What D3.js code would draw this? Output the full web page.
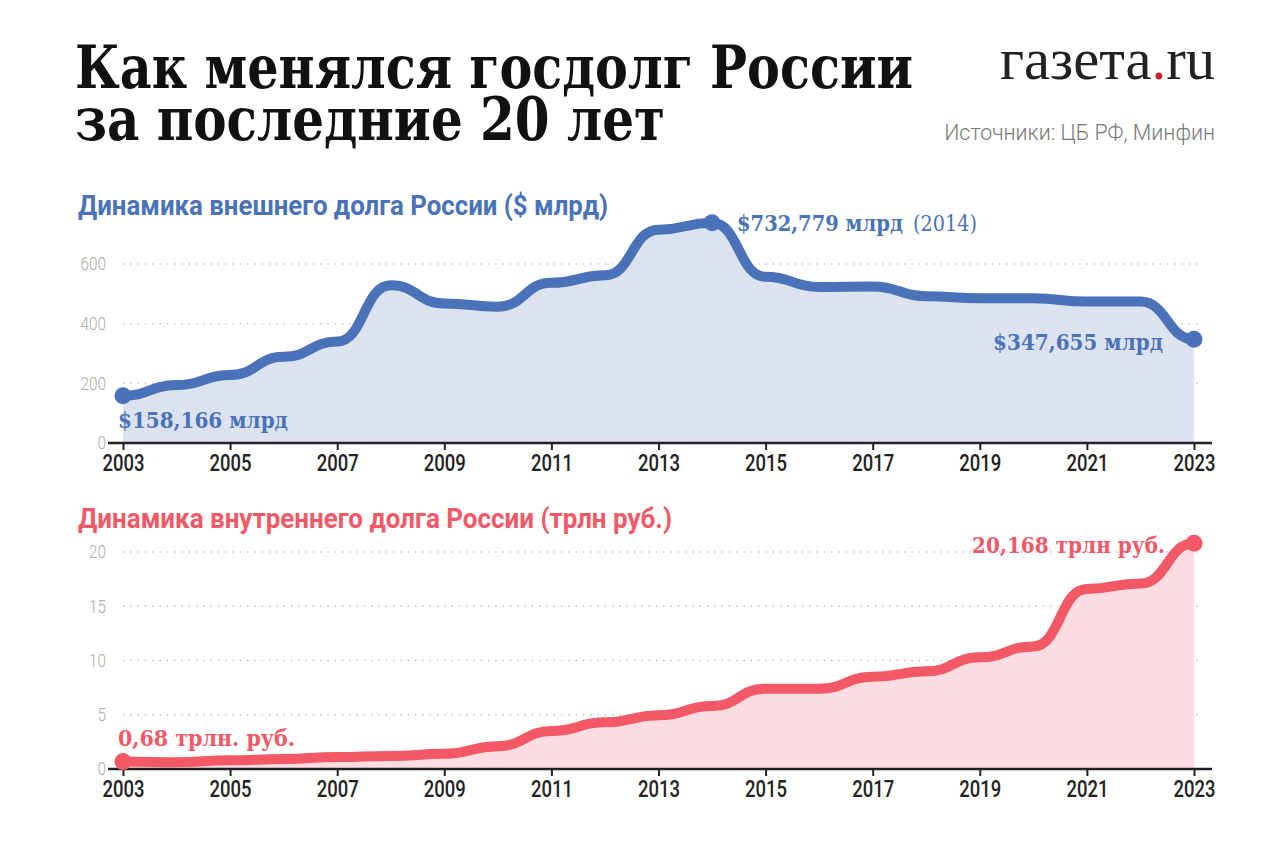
<!DOCTYPE html>
<html><head><meta charset="utf-8">
<script src="https://cdn.jsdelivr.net/npm/d3@7"></script>
<style>
body{margin:0;background:#fff;}
svg{display:block;}
</style></head><body>
<svg id="c" width="1280" height="853"></svg>
<script>
// ---------- DATA ----------
const years = [2003,2004,2005,2006,2007,2008,2009,2010,2011,2012,2013,2014,2015,2016,2017,2018,2019,2020,2021,2022,2023];
const externalDebt = [158.2,194,228,289,340,529,468,457,537,562,715,738,557,523,525,492,485,485,474,474,347.7]; // $ bn
const internalDebt = [0.68,0.62,0.8,0.92,1.1,1.2,1.4,2.1,3.5,4.3,4.95,5.8,7.4,7.4,8.5,9.0,10.3,11.3,16.6,17.1,20.8]; // trn rub
const xTickYears = [2003,2005,2007,2009,2011,2013,2015,2017,2019,2021,2023];
const extTicks = [0,200,400,600];
const intTicks = [0,5,10,15,20];

const titleLines = ["Как менялся госдолг России","за последние 20 лет"];
const subtitleExt = "Динамика внешнего долга России ($ млрд)";
const subtitleInt = "Динамика внутреннего долга России (трлн руб.)";
const sourceText = "Источники: ЦБ РФ, Минфин";

const BLUE = "#4a72b9", BLUE_FILL = "#dce3ef";
const RED = "#f25866", RED_FILL = "#fddde1";

const svg = d3.select("#c");
const SERIF = "'DejaVu Serif', 'Liberation Serif', serif";
const SANS = "Roboto, 'Noto Sans', sans-serif";

function fit(sel, width){
  const n = sel.node();
  const fs = parseFloat(sel.attr("font-size"));
  const w = n.getComputedTextLength();
  sel.attr("font-size", fs*width/w);
  return sel;
}
function shrink(sel, width){
  const n = sel.node();
  const fs = parseFloat(sel.attr("font-size"));
  const w = n.getComputedTextLength();
  if (w > width) sel.attr("font-size", fs*width/w);
  return sel;
}
function squeeze(sel, width){
  sel.each(function(){
    const w = this.getComputedTextLength();
    if (w > width) d3.select(this).attr("textLength", width).attr("lengthAdjust","spacingAndGlyphs");
  });
  return sel;
}

// ---------- Header ----------
squeeze(svg.append("text").attr("x",75).attr("y",88).attr("font-family",SERIF).attr("font-weight",700)
  .attr("font-stretch","condensed").attr("font-size",60).attr("fill","#111").text(titleLines[0]), 838);
squeeze(svg.append("text").attr("x",75).attr("y",140).attr("font-family",SERIF).attr("font-weight",700)
  .attr("font-stretch","condensed").attr("font-size",60).attr("fill","#111").text(titleLines[1]), 590);

const logo = svg.append("text").attr("x",1215).attr("y",79).attr("text-anchor","end")
  .attr("font-family","'Liberation Serif', serif").attr("font-size",52).attr("fill","#222");
logo.append("tspan").text("газета");
logo.append("tspan").attr("fill","#c8202a").text(".");
logo.append("tspan").text("ru");
fit(logo, 215);

fit(svg.append("text").attr("x",1215).attr("y",140).attr("text-anchor","end").attr("font-family",SANS)
  .attr("font-weight",300).attr("font-size",20).attr("fill","#777").text(sourceText), 271);

// ---------- Chart builder ----------
const x = d3.scaleLinear().domain([2003,2023]).range([123,1194]);

function chart(opts){
  const {y, values, ticks, color, fill, subtitle, subY} = opts;
  const g = svg.append("g");
  squeeze(g.append("text").attr("x",78).attr("y",subY).attr("font-family",SANS).attr("font-weight",700)
    .attr("font-size",28).attr("fill",color).text(subtitle), opts.subW);

  // gridlines
  g.append("g").selectAll("line").data(ticks.filter(t=>t>0)).join("line")
    .attr("x1",x(2003)).attr("x2",x(2023)+6)
    .attr("y1",d=>y(d)).attr("y2",d=>y(d))
    .attr("stroke","#b8b8b8").attr("stroke-width",1.3).attr("stroke-dasharray","1.3 6");

  // y labels
  const ya = g.append("g").attr("transform","translate(106,0)")
    .call(d3.axisLeft(y).tickValues(ticks).tickSize(0).tickPadding(0));
  ya.select(".domain").remove();
  ya.selectAll("text").attr("font-family",SANS).attr("font-weight",300).attr("font-size",18).attr("fill","#aaa")
    .each(function(){ const w=this.getComputedTextLength(); d3.select(this).attr("textLength", w*0.85).attr("lengthAdjust","spacingAndGlyphs"); });

  const data = years.map((yr,i)=>({yr, v: values[i]}));
  // area
  g.append("path").datum(data)
    .attr("d", d3.area().x(d=>x(d.yr)).y0(y(0)).y1(d=>y(d.v)).curve(d3.curveBumpX))
    .attr("fill", fill);
  // x axis
  const xa = g.append("g").attr("transform",`translate(0,${y(0)})`)
    .call(d3.axisBottom(x).tickValues(xTickYears).tickFormat(d3.format("d")).tickSize(7).tickSizeOuter(0).tickPadding(5));
  xa.select(".domain").remove();
  xa.selectAll(".tick line").attr("stroke","#222").attr("stroke-width",2);
  xa.selectAll("text").attr("font-family",SANS).attr("font-weight",500).attr("font-size",23).attr("fill","#222")
    .attr("textLength",42).attr("lengthAdjust","spacingAndGlyphs");
  g.append("line").attr("x1",x(2003)-15).attr("x2",x(2023)+18).attr("y1",y(0)).attr("y2",y(0))
    .attr("stroke","#222").attr("stroke-width",2.5);
  // line
  g.append("path").datum(data)
    .attr("d", d3.line().x(d=>x(d.yr)).y(d=>y(d.v)).curve(d3.curveBumpX))
    .attr("fill","none").attr("stroke",color).attr("stroke-width",10).attr("stroke-linejoin","round").attr("stroke-linecap","round");
  // dots
  g.append("g").selectAll("circle").data(opts.dots.map(i=>data[i])).join("circle")
    .attr("cx",d=>x(d.yr)).attr("cy",d=>y(d.v)).attr("r",8.5).attr("fill",color);
  // annotations
  opts.notes.forEach(n=>{
    const t = g.append("text").attr("x",n.x).attr("y",n.y).attr("text-anchor",n.anchor||"start")
      .attr("font-family",SERIF).attr("font-stretch","condensed").attr("font-size",25)
      .attr("font-weight",n.weight||700).attr("fill",color).text(n.t);
    shrink(t, n.w);
  });
}

const yExt = d3.scaleLinear().domain([0,600]).range([443,264]);
chart({y:yExt, values:externalDebt, ticks:extTicks, color:BLUE, fill:BLUE_FILL,
  subtitle:subtitleExt, subY:215, subW:530, dots:[0,11,20],
  notes:[
    {x:118,y:428,w:170,t:"$158,166 млрд"},
    {x:737,y:231,w:166,t:"$732,779 млрд"},
    {x:913,y:231,w:64,t:"(2014)",weight:400},
    {x:1163,y:350,w:170,anchor:"end",t:"$347,655 млрд"}
  ]});

const yInt = d3.scaleLinear().domain([0,20]).range([769,552]);
chart({y:yInt, values:internalDebt, ticks:intTicks, color:RED, fill:RED_FILL,
  subtitle:subtitleInt, subY:528, subW:594, dots:[0,20],
  notes:[
    {x:118,y:746,w:177,t:"0,68 трлн. руб."},
    {x:1165,y:553,w:193,anchor:"end",t:"20,168 трлн руб."}
  ]});
</script>
</body></html>
